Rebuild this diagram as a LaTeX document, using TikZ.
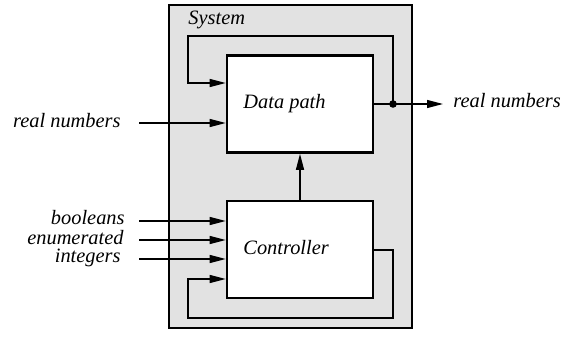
\documentclass[tikz,border=0pt]{standalone}
\usepackage{fontspec}
\setmainfont{Liberation Serif}
\usetikzlibrary{arrows.meta}
\definecolor{sysgray}{HTML}{E2E2E2}
\begin{document}
\begin{tikzpicture}[x=0.5pt,y=-0.5pt,
  box/.style={draw, line width=1.3pt, fill=white, minimum width=73pt, minimum height=48.5pt, inner sep=0pt},
  sig/.style={line width=0.6pt},
  arr/.style={sig, -{Triangle[length=8pt,width=4pt]}},
  lbl/.style={font=\fontsize{10.2}{12}\selectfont\itshape, inner sep=0pt}]
\useasboundingbox (0,0) rectangle (563,342);
% system
\node[draw, line width=1.1pt, fill=sysgray, minimum width=121.5pt, minimum height=161.5pt, inner sep=0pt] (sys) at (290.5,166.5) {};
\node[lbl, anchor=base west] (systxt) at (188,25) {System};
% boxes
\node[box] (dp) at (300,104) {};
\node[box] (ct) at (300,249.5) {};
\node[lbl, anchor=base west] (dptxt) at (243,109) {Data path};
\node[lbl, anchor=base west] (cttxt) at (243,255) {Controller};
% coordinates
\coordinate (dot) at (393,104);
\coordinate (fbTR) at (393,36);
\coordinate (fbTL) at (188,36);
\coordinate (fbTin) at (188,83);
\coordinate (out) at (443,104);
\coordinate (inR) at (139,123);
\coordinate (inB) at (139,221);
\coordinate (inE) at (139,240);
\coordinate (inI) at (139,259);
\coordinate (cOut) at (393,250);
\coordinate (fbBR) at (393,318);
\coordinate (fbBL) at (188,318);
\coordinate (fbBin) at (188,279);
% data path output and feedback
\draw[sig] (dp.east |- dot) -- (dot);
\draw[arr] (dot) -- (out);
\fill (dot) circle (1.9pt);
\draw[arr] (dot) -- (fbTR) -- (fbTL) -- (fbTin) -- (fbTin -| dp.west);
% inputs
\draw[arr] (inR) -- (inR -| dp.west);
\draw[arr] (inB) -- (inB -| ct.west);
\draw[arr] (inE) -- (inE -| ct.west);
\draw[arr] (inI) -- (inI -| ct.west);
% controller to data path
\draw[arr] (ct.north) -- (dp.south);
% controller feedback
\draw[arr] (ct.east |- cOut) -- (cOut) -- (fbBR) -- (fbBL) -- (fbBin) -- (fbBin -| ct.west);
% labels
\node[lbl, anchor=base east] (lR) at (121,128) {real numbers};
\node[lbl, anchor=base east] (lB) at (125,225) {booleans};
\node[lbl, anchor=base east] (lE) at (124,244) {enumerated};
\node[lbl, anchor=base east] (lI) at (121,263) {integers};
\node[lbl, anchor=base west] (lO) at (453,108) {real numbers};
\end{tikzpicture}
\end{document}
